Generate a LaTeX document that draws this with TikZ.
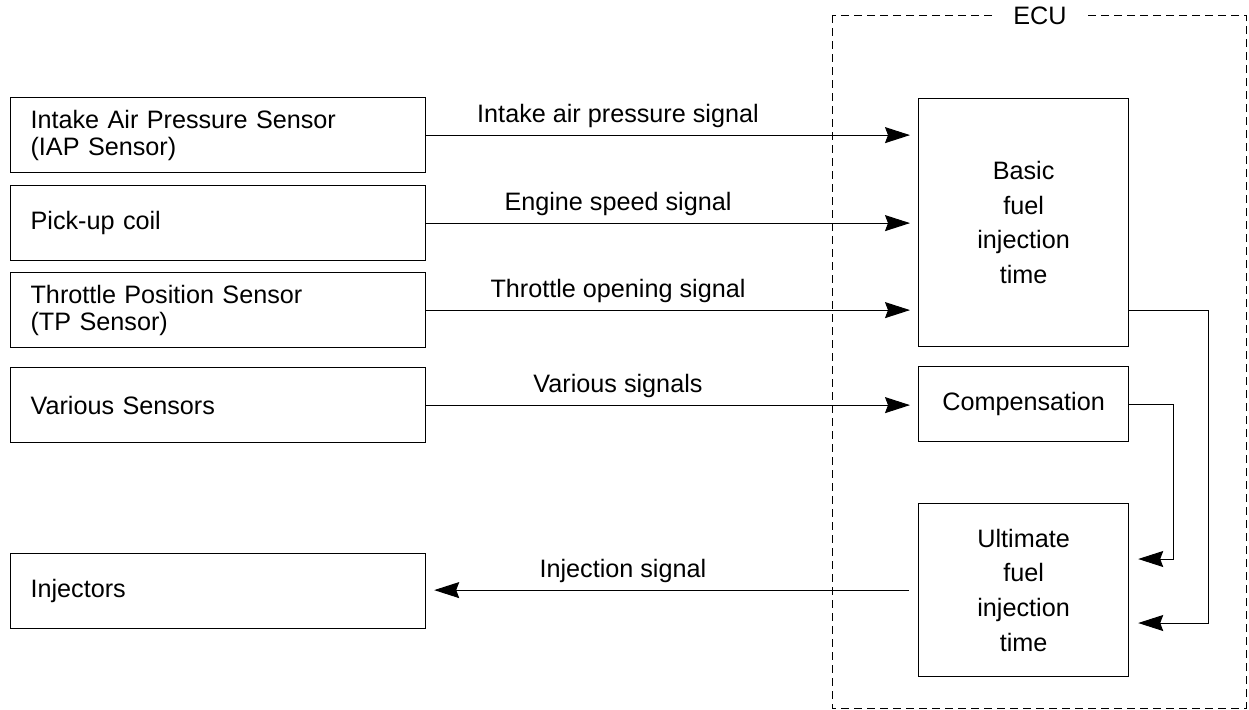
\documentclass[tikz,border=0pt]{standalone}
\usepackage{fontspec}
\setmainfont{Liberation Sans}
\usetikzlibrary{arrows.meta,calc}

\tikzset{
  sensor/.style={draw, line width=0.6pt, anchor=north west, minimum width=207.5pt, minimum height=37.5pt,
    text width=187.5pt, inner xsep=10pt, align=left, font=\fontsize{12.6}{13.5}\selectfont},
  ecubox/.style={draw, line width=0.6pt, anchor=north west, minimum width=105pt, align=center,
    font=\fontsize{12.6}{17.3}\selectfont},
  sig/.style={line width=0.5pt, -{Stealth[length=12.5pt,width=8pt,inset=1.5pt]}},
  siglabel/.style={above, font=\fontsize{12.6}{15}\selectfont},
}

\begin{document}
\begin{tikzpicture}[x=0.5pt,y=-0.5pt]
			\useasboundingbox (0,0) rectangle (1249,709);
			% ECU frame
			\draw[line width=0.5pt, dash pattern=on 4pt off 2.5pt] (832,15) rectangle (1246,708);
			\node[fill=white, inner xsep=8pt, font=\fontsize{12.6}{15}\selectfont] (ecu) at (1040,16) {ECU};
			% sensors and injectors
			\node[sensor] (iap) at (10,97) {Intake Air Pressure Sensor\\(IAP Sensor)};
			\node[sensor] (pick) at (10,185) {Pick-up coil};
			\node[sensor] (tps) at (10,272) {Throttle Position Sensor\\(TP Sensor)};
			\node[sensor] (various) at (10,367) {Various Sensors};
			\node[sensor] (inj) at (10,553) {Injectors};
			% inside the ECU
			\node[ecubox, minimum height=124pt] (basic) at (918,98) {Basic\\fuel\\injection\\time};
			\node[ecubox, minimum height=37.5pt] (comp) at (918,366) {Compensation};
			\node[ecubox, minimum height=86.5pt] (ult) at (918,503) {Ultimate\\fuel\\injection\\time};
			\coordinate (cmpin) at ($(ult.north east)+(0,56)$);
			\coordinate (basin) at ($(ult.north east)+(0,120)$);
			% signals
			\draw[sig, shorten >=4pt] (iap.east) -- node[siglabel, pos=0.39] {Intake air pressure signal} (basic.west |- iap.east);
			\draw[sig, shorten >=4pt] (pick.east) -- node[siglabel, pos=0.39] {Engine speed signal} (basic.west |- pick.east);
			\draw[sig, shorten >=4pt] (tps.east) -- node[siglabel, pos=0.39] {Throttle opening signal} (basic.west |- tps.east);
			\draw[sig, shorten >=4pt] (various.east) -- node[siglabel, pos=0.39] {Various signals} (comp.west |- various.east);
			\draw[sig, shorten <=4.5pt, shorten >=4pt] (ult.west) -- node[siglabel, pos=0.6] {Injection signal} (inj.east |- ult.west);
			\draw[sig, shorten >=4.5pt] (comp.east) -- ++(44,0) |- (cmpin);
			\draw[sig, shorten >=4.5pt] (basic.east |- tps.east) -- ++(79,0) |- (basin);
		\end{tikzpicture}
\end{document}
